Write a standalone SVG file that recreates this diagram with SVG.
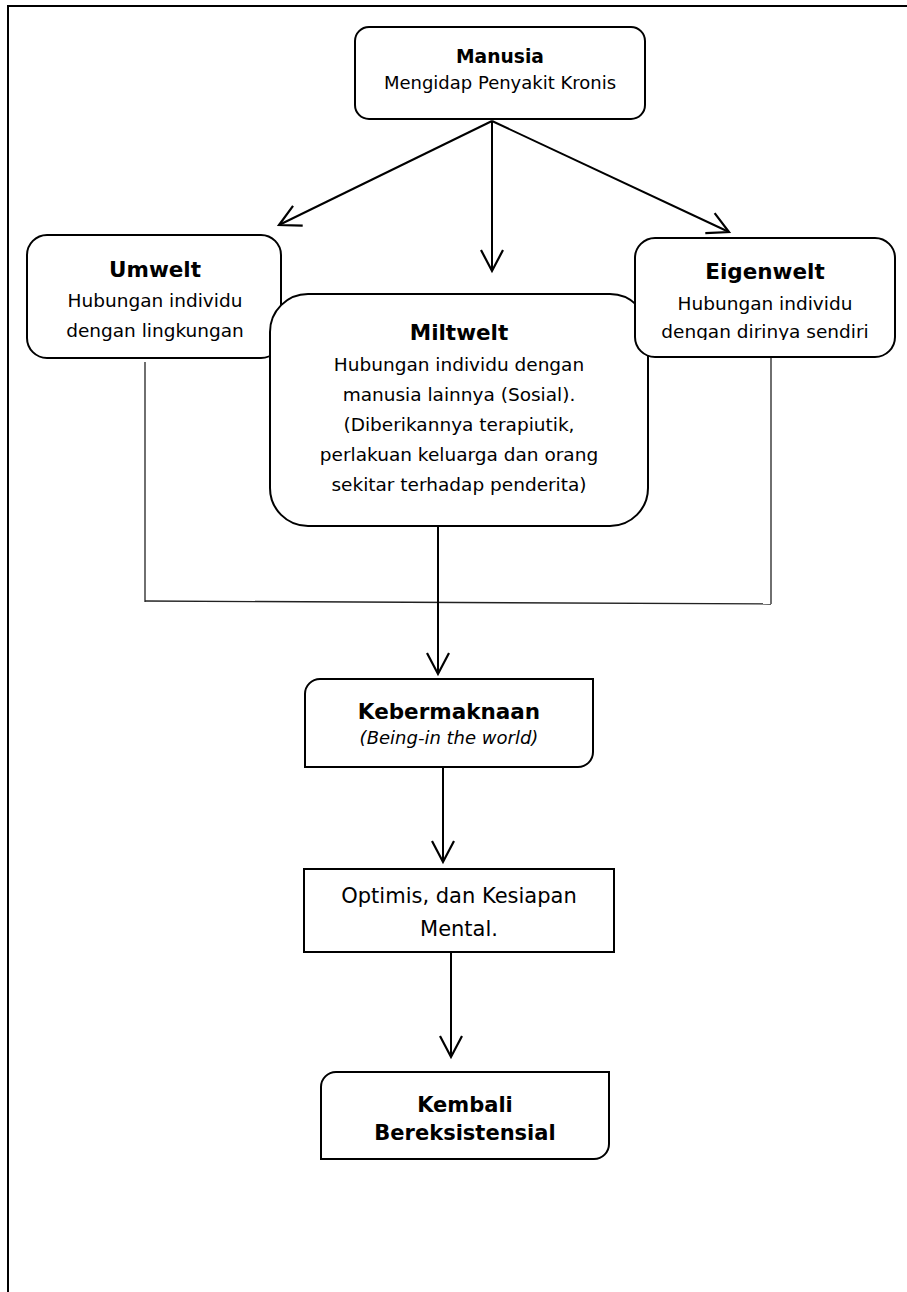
<svg xmlns="http://www.w3.org/2000/svg" width="907" height="1292" viewBox="0 0 907 1292">
<style>
.box{fill:#fff;stroke:#000;stroke-width:2}
.t{font-family:"DejaVu Sans",Verdana,sans-serif;font-size:18.5px;fill:#000;text-anchor:middle}
.b{font-weight:bold;font-size:21.5px}
.i{font-style:italic;font-size:18px}
.conn{fill:none;stroke:#000;stroke-width:2}
.thin{fill:none;stroke:#222;stroke-width:1.3}
</style>
<defs>
<marker id="arr" markerUnits="userSpaceOnUse" markerWidth="26" markerHeight="26" viewBox="-24 -13 26 26" refX="0" refY="0" orient="auto" overflow="visible">
<path d="M-21,-11 L0,0 L-21,11" fill="none" stroke="#000" stroke-width="2.2"/>
</marker>
<clipPath id="clipEigen"><rect x="636" y="239" width="258" height="101"/></clipPath>
</defs>
<rect width="907" height="1292" fill="#fff"/>
<path d="M8,1292 L8,6 L907,6" fill="none" stroke="#000" stroke-width="2"/>

<g id="connectors">
<line class="conn" x1="492" y1="121" x2="279" y2="225" marker-end="url(#arr)"/>
<line class="conn" x1="492" y1="121" x2="492" y2="271" marker-end="url(#arr)"/>
<line class="conn" x1="492" y1="121" x2="729" y2="232" marker-end="url(#arr)"/>
<path class="thin" d="M145,362 L145,602"/>
<path class="thin" d="M145,601 L771,604"/>
<path class="thin" d="M771,358 L771,604"/>
<line class="conn" x1="438" y1="526" x2="438" y2="674" marker-end="url(#arr)"/>
<line class="conn" x1="443" y1="767" x2="443" y2="862" marker-end="url(#arr)"/>
<line class="conn" x1="451" y1="953" x2="451" y2="1057" marker-end="url(#arr)"/>
</g>

<g id="manusia">
<rect class="box" x="355" y="27" width="290" height="92" rx="14"/>
<text class="t b" x="500" y="63" style="font-size:18.7px">Manusia</text>
<text class="t" x="500" y="89" style="font-size:18px">Mengidap Penyakit Kronis</text>
</g>

<g id="umwelt">
<rect class="box" x="27" y="235" width="254" height="123" rx="20"/>
<text class="t b" x="155" y="277">Umwelt</text>
<text class="t" x="155" y="307">Hubungan individu</text>
<text class="t" x="155" y="337">dengan lingkungan</text>
</g>

<g id="miltwelt">
<rect class="box" x="270" y="294" width="378" height="232" rx="38"/>
<text class="t b" x="459" y="340">Miltwelt</text>
<text class="t" x="459" y="371">Hubungan individu dengan</text>
<text class="t" x="459" y="401">manusia lainnya (Sosial).</text>
<text class="t" x="459" y="431">(Diberikannya terapiutik,</text>
<text class="t" x="459" y="461">perlakuan keluarga dan orang</text>
<text class="t" x="459" y="491">sekitar terhadap penderita)</text>
</g>

<g id="eigenwelt">
<rect class="box" x="635" y="238" width="260" height="119" rx="20"/>
<text class="t b" x="765" y="279">Eigenwelt</text>
<text class="t" x="765" y="310">Hubungan individu</text>
<text class="t" x="765" y="338" clip-path="url(#clipEigen)">dengan dirinya sendiri</text>
</g>

<g id="kebermaknaan">
<path class="box" d="M320,679 L593,679 L593,752 A15,15 0 0 1 578,767 L305,767 L305,694 A15,15 0 0 1 320,679 Z"/>
<text class="t b" x="449" y="719">Kebermaknaan</text>
<text class="t i" x="449" y="744">(Being-in the world)</text>
</g>

<g id="optimis">
<rect class="box" x="304" y="869" width="310" height="83"/>
<text class="t" x="459" y="903" style="font-size:21px">Optimis, dan Kesiapan</text>
<text class="t" x="459" y="936" style="font-size:21px">Mental.</text>
</g>

<g id="kembali">
<path class="box" d="M336,1072 L609,1072 L609,1144 A15,15 0 0 1 594,1159 L321,1159 L321,1087 A15,15 0 0 1 336,1072 Z"/>
<text class="t b" x="465" y="1112" style="font-size:21px">Kembali</text>
<text class="t b" x="465" y="1140" style="font-size:21px">Bereksistensial</text>
</g>
</svg>
